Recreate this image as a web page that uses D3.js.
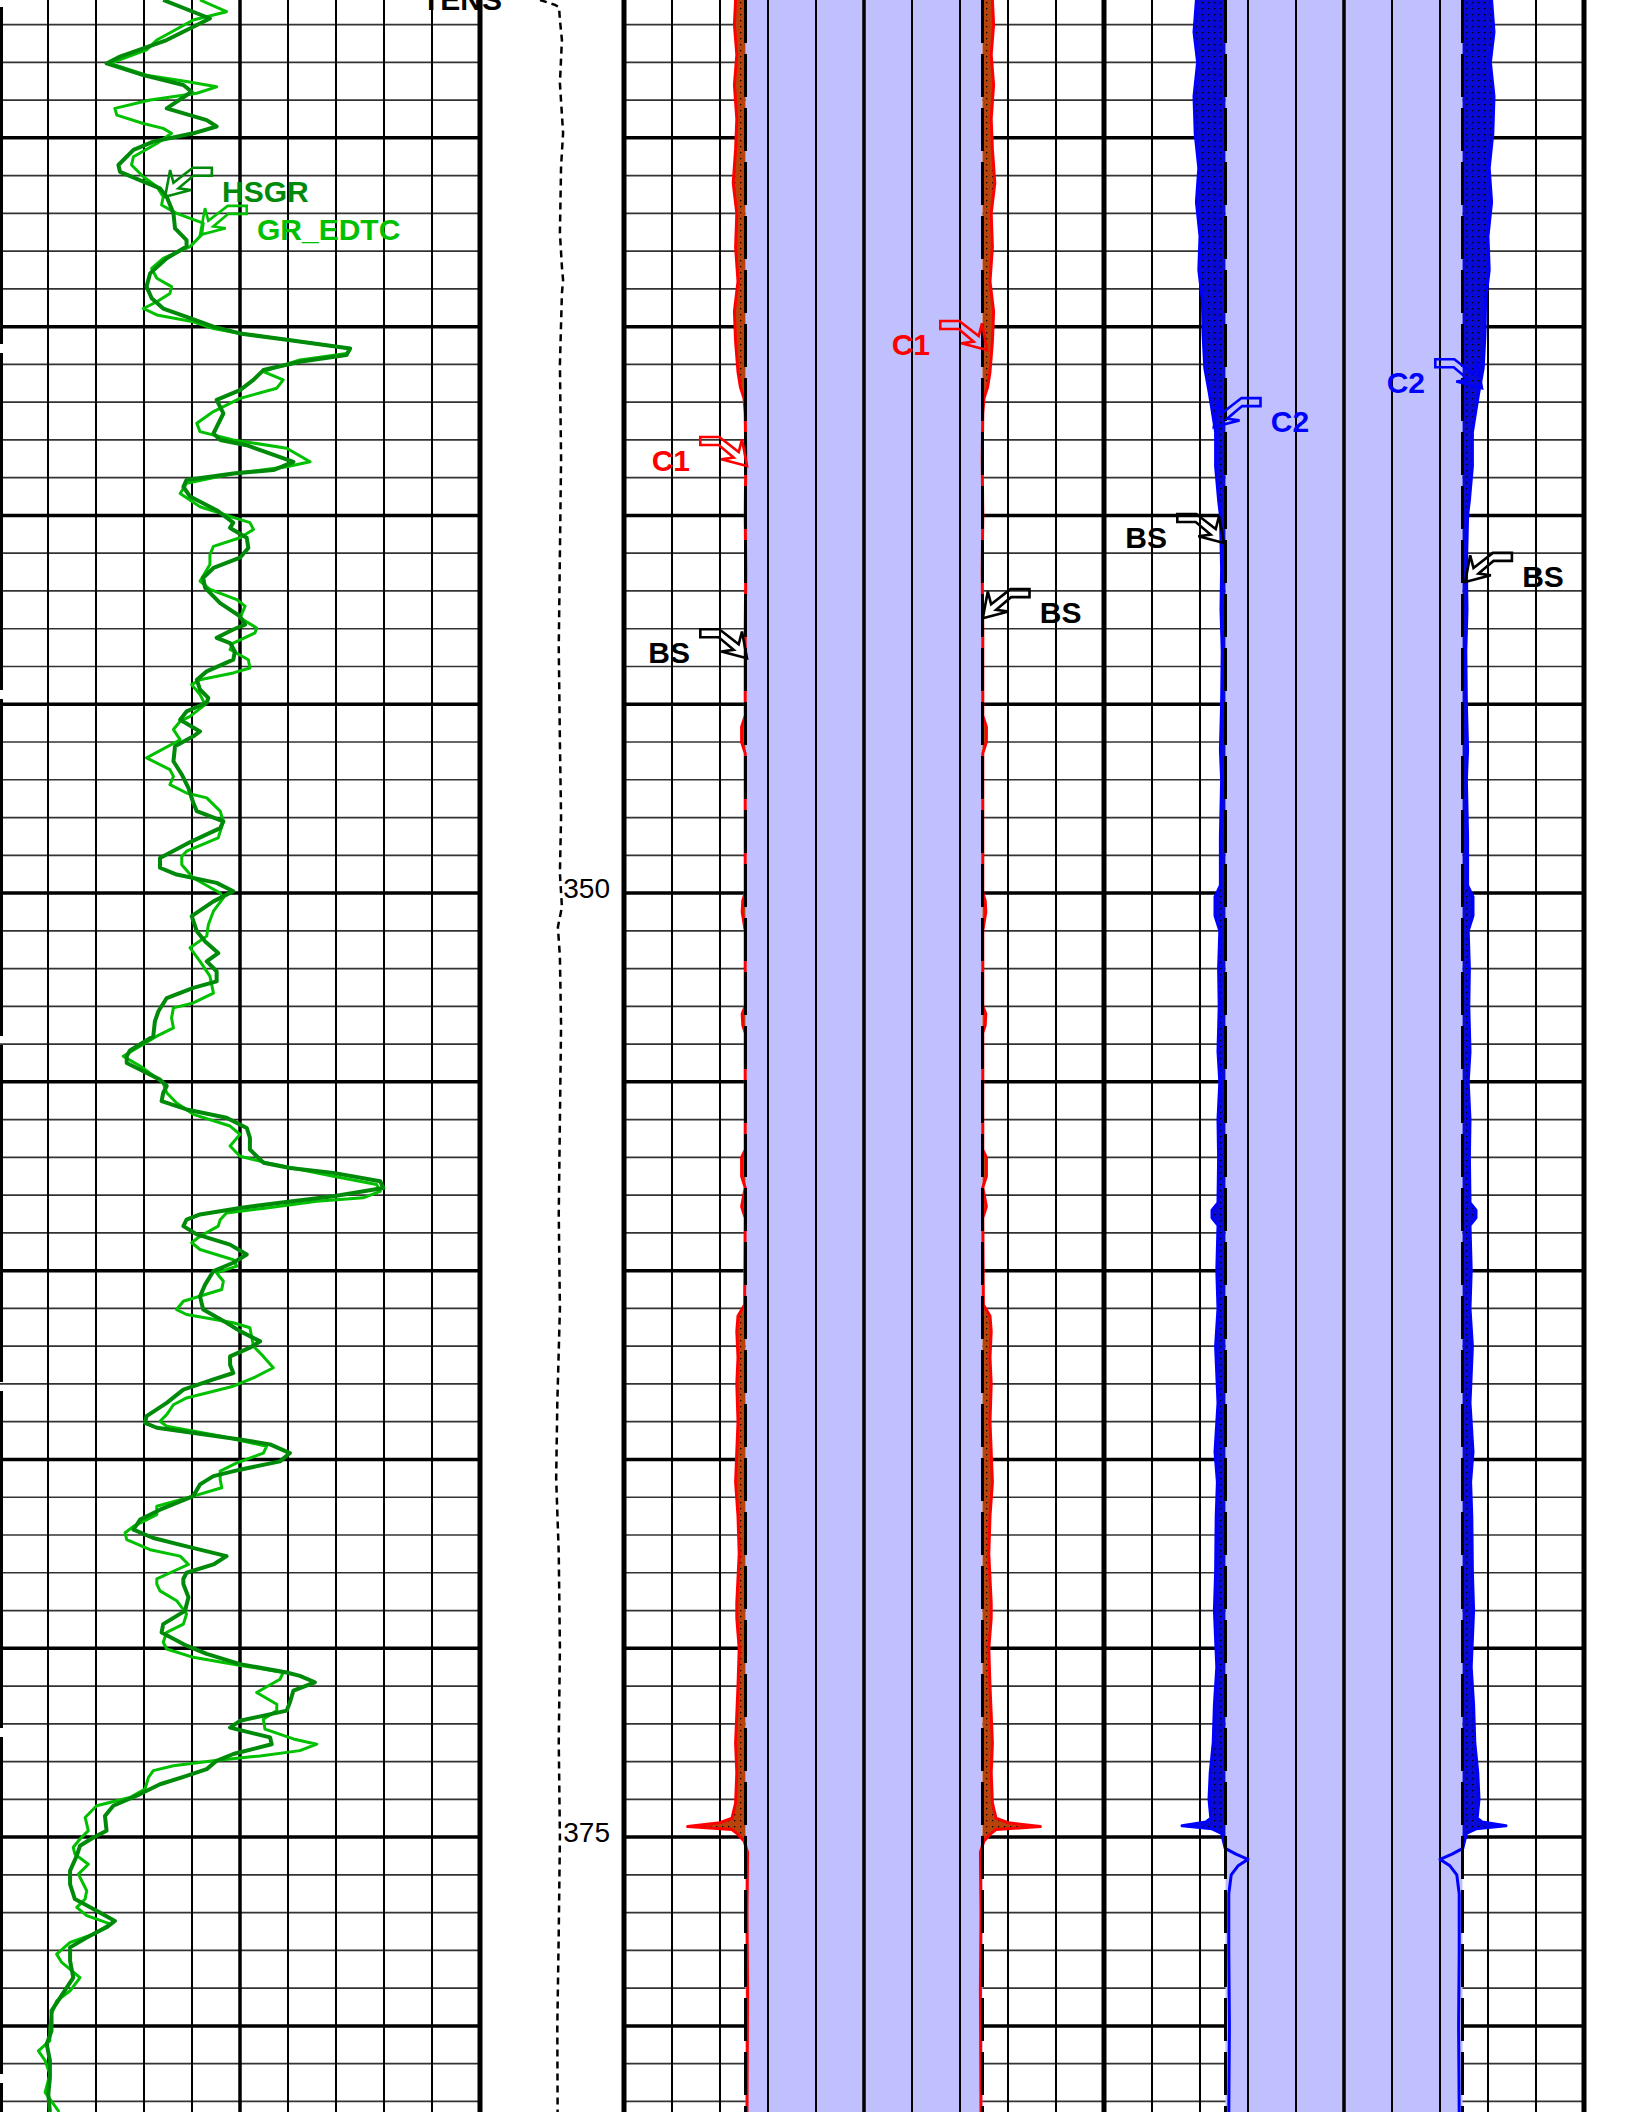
<!DOCTYPE html>
<html>
<head>
<meta charset="utf-8">
<script src="https://cdn.jsdelivr.net/npm/d3@7"></script>
<style>
  body { margin: 0; background: #fff; }
  svg { display: block; }
</style>
</head>
<body>
<svg id="log" width="1632" height="2112"></svg>
<script>
// depth window shown on the sheet (m)
const depthRange = [326.35, 382.28];
const depthLabels = [350, 375];

// gamma ray, [depth, gAPI]
const hsgr = [
  [326.35, 51.0], [326.84, 65.6], [327.41, 52.1], [327.85, 37.5], [328.03, 33.3], [328.34, 44.8],
  [328.60, 57.3], [328.78, 59.9], [329.22, 52.1], [329.53, 64.6], [329.70, 67.7], [329.88, 60.4],
  [330.10, 47.9], [330.32, 41.7], [330.72, 37.0], [330.90, 37.5], [331.16, 44.8], [331.34, 50.0],
  [331.56, 52.1], [332.00, 54.2], [332.40, 54.7], [332.71, 58.3], [332.88, 58.3], [333.19, 52.1],
  [333.59, 46.9], [333.94, 45.8], [334.25, 47.4], [334.52, 51.0], [334.74, 58.3], [335.00, 66.7],
  [335.18, 75.0], [335.35, 89.6], [335.58, 109.4], [335.75, 108.3], [335.93, 93.7], [336.15, 82.3],
  [336.41, 79.2], [336.68, 75.0], [336.94, 67.7], [337.30, 69.8], [337.83, 66.7], [338.00, 68.8],
  [338.14, 77.1], [338.58, 91.7], [338.80, 85.4], [338.89, 72.9], [339.06, 58.3], [339.24, 57.3],
  [339.50, 59.4], [339.86, 67.7], [340.19, 72.9], [340.33, 71.9], [340.59, 77.1], [340.86, 77.6],
  [341.12, 75.0], [341.39, 66.7], [341.65, 63.5], [341.92, 64.1], [342.32, 68.8], [342.67, 75.0],
  [342.89, 76.6], [343.02, 72.9], [343.24, 67.7], [343.38, 71.9], [343.60, 73.4], [343.82, 72.9],
  [344.13, 64.6], [344.35, 61.5], [344.61, 62.5], [344.83, 65.1], [344.96, 64.6], [345.19, 58.3],
  [345.41, 56.3], [345.72, 62.5], [345.85, 60.4], [346.11, 54.7], [346.51, 54.2], [346.86, 56.8],
  [347.22, 58.9], [347.61, 60.4], [347.83, 61.5], [348.10, 69.8], [348.28, 68.8], [348.63, 59.9],
  [349.07, 50.0], [349.33, 50.0], [349.51, 55.2], [349.73, 67.7], [349.95, 72.9], [350.22, 66.7],
  [350.61, 59.9], [351.01, 61.5], [351.28, 64.1], [351.59, 68.2], [351.81, 64.6], [352.07, 67.7],
  [352.34, 67.7], [352.51, 60.4], [352.78, 52.1], [353.13, 49.5], [353.40, 48.4], [353.79, 47.9],
  [354.17, 40.6], [354.32, 39.6], [354.50, 39.6], [354.72, 44.8], [354.94, 50.0], [355.11, 52.1],
  [355.29, 51.0], [355.51, 50.5], [355.73, 58.3], [355.95, 70.8], [356.22, 77.1], [356.48, 78.1],
  [356.79, 78.1], [357.14, 82.3], [357.28, 90.6], [357.41, 104.2], [357.63, 118.8], [357.81, 119.8],
  [358.03, 104.2], [358.20, 87.5], [358.34, 75.0], [358.51, 62.5], [358.65, 58.3], [358.82, 57.3],
  [359.04, 61.5], [359.31, 71.9], [359.57, 77.1], [359.79, 72.9], [360.01, 66.7], [360.37, 64.1],
  [360.68, 62.5], [361.03, 63.5], [361.38, 70.8], [361.60, 75.0], [361.87, 81.3], [362.04, 78.1],
  [362.27, 71.9], [362.49, 71.9], [362.71, 72.9], [362.88, 66.7], [363.15, 57.3], [363.50, 52.1],
  [363.85, 45.8], [364.03, 45.3], [364.16, 49.0], [364.47, 75.0], [364.60, 84.4], [364.83, 90.6],
  [365.05, 87.5], [365.27, 75.0], [365.44, 66.7], [365.66, 62.5], [365.97, 60.4], [366.33, 50.0],
  [366.59, 43.8], [366.86, 41.7], [367.08, 47.9], [367.30, 58.3], [367.56, 70.8], [367.78, 66.7],
  [368.00, 58.3], [368.16, 57.3], [368.30, 57.3], [368.65, 58.9], [369.01, 57.8], [369.36, 51.0],
  [369.58, 50.5], [369.93, 58.3], [370.15, 64.6], [370.42, 75.0], [370.64, 89.6], [370.73, 93.7],
  [370.90, 98.4], [371.12, 91.7], [371.43, 90.6], [371.65, 89.6], [371.92, 75.0], [372.10, 71.9],
  [372.36, 84.4], [372.54, 84.9], [372.80, 72.9], [372.98, 67.7], [373.20, 64.6], [373.38, 58.3],
  [373.60, 50.0], [373.86, 43.8], [374.17, 35.4], [374.44, 32.8], [374.83, 33.3], [375.01, 29.2],
  [375.23, 25.0], [375.49, 24.0], [375.89, 21.9], [376.25, 21.9], [376.64, 23.4], [376.95, 30.2],
  [377.22, 35.9], [377.39, 33.3], [377.66, 27.1], [377.92, 21.9], [378.28, 21.9], [378.72, 22.9],
  [379.25, 18.8], [379.60, 16.1], [380.13, 16.1], [380.48, 14.6], [380.92, 15.6], [381.37, 15.6],
  [381.81, 15.1], [382.28, 15.6]
];

const grEdtc = [
  [326.35, 62.5], [326.66, 70.8], [326.88, 60.4], [327.41, 49.0], [327.67, 45.8], [328.03, 34.4],
  [328.34, 45.8], [328.51, 58.3], [328.65, 67.7], [328.82, 61.5], [329.00, 46.9], [329.22, 35.9],
  [329.40, 36.5], [329.62, 44.8], [329.75, 51.0], [329.88, 53.6], [330.15, 49.0], [330.50, 41.7],
  [330.72, 41.1], [331.03, 44.8], [331.29, 49.0], [331.56, 51.0], [331.78, 50.5], [332.00, 55.2],
  [332.26, 63.5], [332.57, 63.0], [332.88, 59.4], [333.19, 51.0], [333.46, 47.4], [333.72, 49.0],
  [333.94, 53.6], [334.12, 53.1], [334.34, 49.0], [334.52, 44.8], [334.69, 49.0], [334.87, 60.4],
  [335.05, 66.7], [335.18, 75.0], [335.35, 89.6], [335.58, 109.4], [335.71, 108.3], [335.88, 93.7],
  [336.19, 82.3], [336.41, 88.5], [336.63, 86.5], [336.90, 75.0], [337.25, 66.7], [337.56, 61.5],
  [337.78, 62.5], [338.00, 72.9], [338.22, 89.6], [338.58, 96.9], [338.71, 89.6], [338.89, 72.9],
  [339.15, 58.3], [339.42, 56.3], [339.77, 62.5], [340.19, 78.1], [340.37, 79.2], [340.59, 75.0],
  [340.82, 66.7], [341.04, 65.6], [341.30, 65.6], [341.74, 62.5], [341.96, 65.6], [342.23, 74.0],
  [342.40, 76.6], [342.71, 75.0], [342.98, 80.2], [343.11, 79.7], [343.38, 72.9], [343.55, 71.9],
  [343.82, 77.6], [344.04, 78.1], [344.17, 72.9], [344.35, 62.5], [344.48, 59.9], [344.74, 62.5],
  [345.01, 64.1], [345.32, 59.4], [345.45, 56.3], [345.67, 54.2], [345.94, 56.3], [346.42, 45.8],
  [346.73, 53.1], [346.91, 54.2], [347.13, 53.1], [347.35, 58.3], [347.48, 64.6], [347.83, 68.8],
  [348.10, 69.8], [348.54, 68.2], [348.89, 58.3], [349.03, 56.8], [349.25, 56.8], [349.60, 60.4],
  [350.00, 68.8], [350.13, 69.8], [350.48, 66.7], [350.84, 65.1], [351.14, 64.6], [351.45, 59.4],
  [351.81, 62.5], [352.20, 65.6], [352.65, 66.7], [352.91, 60.4], [353.04, 54.2], [353.31, 53.6],
  [353.57, 54.2], [353.79, 49.0], [354.32, 38.5], [354.58, 43.8], [355.03, 51.0], [355.29, 52.1],
  [355.56, 55.2], [355.86, 60.4], [356.17, 71.9], [356.39, 75.0], [356.70, 71.9], [356.97, 75.0],
  [357.14, 83.3], [357.32, 93.7], [357.50, 104.2], [357.72, 117.7], [357.90, 118.8], [358.07, 113.5],
  [358.16, 99.0], [358.34, 83.3], [358.47, 70.8], [358.65, 68.8], [358.82, 68.2], [359.09, 62.5],
  [359.26, 59.9], [359.44, 62.5], [359.71, 72.9], [359.88, 74.0], [360.06, 67.7], [360.28, 69.8],
  [360.50, 69.3], [360.81, 57.3], [361.03, 55.2], [361.16, 58.3], [361.38, 72.9], [361.51, 78.1],
  [362.00, 79.2], [362.27, 82.3], [362.57, 85.4], [362.84, 79.2], [363.06, 72.9], [363.37, 58.3],
  [363.55, 54.2], [363.81, 52.1], [363.99, 50.0], [364.12, 52.1], [364.38, 68.8], [364.65, 83.3],
  [364.83, 82.3], [365.09, 74.0], [365.31, 68.8], [365.53, 68.8], [365.75, 69.3], [365.97, 60.4],
  [366.24, 49.0], [366.46, 49.0], [366.77, 41.7], [366.94, 39.1], [367.12, 39.6], [367.39, 46.9],
  [367.56, 56.3], [367.78, 58.9], [367.96, 54.2], [368.16, 49.0], [368.30, 49.0], [368.48, 50.0],
  [368.74, 55.2], [369.09, 58.3], [369.36, 57.3], [369.58, 52.1], [369.84, 51.0], [370.02, 52.1],
  [370.24, 60.4], [370.42, 72.9], [370.64, 88.5], [370.82, 87.5], [371.17, 80.2], [371.48, 86.5],
  [371.65, 86.5], [371.88, 82.3], [372.14, 82.8], [372.40, 91.7], [372.54, 99.0], [372.71, 93.7],
  [372.85, 81.3], [372.98, 66.7], [373.11, 54.2], [373.24, 47.9], [373.42, 46.4], [373.73, 45.3],
  [373.95, 40.6], [374.17, 30.2], [374.48, 26.6], [374.83, 27.6], [375.05, 25.0], [375.27, 22.9],
  [375.45, 23.4], [375.72, 27.6], [375.98, 24.5], [376.42, 27.1], [376.64, 26.6], [376.86, 24.0],
  [377.08, 27.1], [377.30, 34.4], [377.57, 29.2], [377.79, 21.9], [378.10, 17.7], [378.32, 19.3],
  [378.72, 25.0], [379.07, 21.9], [379.34, 17.7], [379.69, 16.1], [380.04, 15.6], [380.39, 15.6],
  [380.66, 12.0], [380.92, 14.1], [381.28, 15.6], [381.76, 14.1], [382.28, 18.5]
];

// cable tension, [depth, lbf]
const tens = [
  [326.35, 2050], [326.48, 2570], [326.54, 2710], [326.88, 2740], [327.41, 2810], [328.55, 2740],
  [329.87, 2850], [330.77, 2780], [332.52, 2740], [333.42, 2810], [333.77, 2850], [334.11, 2810],
  [336.0, 2740], [338.5, 2780], [341.0, 2740], [343.5, 2700], [346.0, 2740], [348.0, 2780],
  [349.47, 2740], [350.37, 2810], [350.90, 2670], [351.69, 2740], [353.5, 2780], [356.0, 2740],
  [358.5, 2700], [361.0, 2740], [363.5, 2650], [365.5, 2610], [367.5, 2700], [370.0, 2740],
  [372.5, 2700], [375.0, 2740], [377.5, 2700], [380.0, 2650], [382.28, 2660]
];

// bit size and calipers, [depth, inch]
const bitSize = [[326.35, 9.875], [382.28, 9.875]];

const cal1 = [
  [326.35, 10.7], [327.0, 10.8], [327.8, 10.6], [328.6, 10.8], [329.5, 10.6], [330.3, 10.7],
  [331.2, 10.9], [332.0, 10.6], [332.9, 10.7], [333.8, 10.5], [334.6, 10.8], [335.4, 10.7],
  [336.2, 10.5], [336.6, 10.3], [336.9, 10.0], [337.3, 9.9], [338.5, 9.85], [340.0, 9.9],
  [341.5, 9.85], [343.0, 9.9], [345.3, 9.9], [345.6, 10.2], [346.0, 10.2], [346.3, 9.9],
  [348.0, 9.9], [350.0, 9.9], [350.2, 10.1], [350.5, 10.15], [351.0, 9.9], [353.0, 9.9],
  [353.2, 10.15], [353.5, 10.1], [353.7, 9.9], [356.8, 9.9], [357.0, 10.2], [357.5, 10.2],
  [357.8, 9.9], [358.3, 10.2], [358.6, 9.9], [360.9, 9.95], [361.2, 10.5], [361.6, 10.6],
  [362.3, 10.5], [363.0, 10.6], [364.0, 10.5], [365.6, 10.7], [366.5, 10.5], [367.5, 10.4],
  [368.8, 10.6], [369.2, 10.6], [370.0, 10.4], [371.0, 10.5], [372.5, 10.7], [373.3, 10.6],
  [374.1, 10.7], [374.5, 11.0], [374.62, 12.0], [374.72, 14.7], [374.8, 11.0], [374.9, 10.6],
  [375.1, 10.0], [375.4, 9.7], [377.0, 9.75], [379.0, 9.7], [382.28, 9.75]
];

const cal2 = [
  [326.35, 12.3], [327.2, 12.5], [328.0, 12.2], [328.9, 12.5], [329.9, 12.4], [330.8, 12.1],
  [331.7, 12.3], [332.6, 12.0], [333.5, 12.1], [334.3, 11.8], [335.2, 11.75], [336.1, 11.6],
  [336.8, 11.2], [337.4, 10.9], [337.8, 10.7], [338.7, 10.7], [339.6, 10.45], [340.0, 10.3],
  [341.4, 10.2], [342.5, 10.25], [343.6, 10.15], [345.0, 10.2], [346.2, 10.3], [347.0, 10.2],
  [348.5, 10.3], [349.8, 10.3], [350.1, 10.75], [350.6, 10.75], [351.0, 10.35], [352.0, 10.45],
  [353.0, 10.4], [354.2, 10.5], [355.0, 10.35], [356.0, 10.5], [357.0, 10.45], [358.2, 10.5],
  [358.4, 11.0], [358.6, 11.0], [358.8, 10.5], [360.0, 10.6], [361.0, 10.5], [362.0, 10.7],
  [363.5, 10.5], [364.8, 10.75], [365.6, 10.55], [366.5, 10.65], [368.0, 10.7], [369.0, 10.8],
  [370.5, 10.6], [371.5, 10.8], [372.5, 10.9], [373.3, 11.15], [374.0, 11.25], [374.5, 11.1],
  [374.6, 11.5], [374.7, 13.5], [374.78, 11.0], [374.9, 10.2], [375.3, 9.9], [375.45, 9.0],
  [375.59, 8.0], [375.75, 8.8], [376.0, 9.4], [376.5, 9.6], [378.0, 9.6], [380.0, 9.55],
  [382.28, 9.6]
];

// curve name flags: where the arrow touches the curve
const flags = [
  { label: 'HSGR',    track: 0, depth: 331.56, value: 51.6,  edge: 0,  dir: 1,  color: '#008a0a' },
  { label: 'GR_EDTC', track: 0, depth: 332.57, value: 62.5,  edge: 0,  dir: 1,  color: '#00c000' },
  { label: 'C1',      track: 2, depth: 338.69, value: 9.75,  edge: -1, dir: -1, color: '#ff0000' },
  { label: 'C1',      track: 2, depth: 335.62, value: 10.25, edge: 1,  dir: -1, color: '#ff0000' },
  { label: 'BS',      track: 2, depth: 343.78, value: 9.75,  edge: -1, dir: -1, color: '#000000' },
  { label: 'BS',      track: 2, depth: 342.72, value: 9.9,   edge: 1,  dir: 1,  color: '#000000' },
  { label: 'C2',      track: 3, depth: 337.66, value: 10.85, edge: -1, dir: 1,  color: '#0000ff' },
  { label: 'C2',      track: 3, depth: 336.63, value: 11.5,  edge: 1,  dir: -1, color: '#0000ff' },
  { label: 'BS',      track: 3, depth: 340.73, value: 10.0,  edge: -1, dir: -1, color: '#000000' },
  { label: 'BS',      track: 3, depth: 341.76, value: 10.1,  edge: 1,  dir: 1,  color: '#000000' }
];

const W = 1632, H = 2112;
const tracks = [
  { x0: 0, x1: 480 },      // gamma ray
  { x0: 480, x1: 624 },    // depth
  { x0: 624, x1: 1104 },   // caliper 1
  { x0: 1104, x1: 1584 }   // caliper 2
];

const svg = d3.select('#log');
const font = "'Liberation Sans', Arial, sans-serif";

const y = d3.scaleLinear().domain(depthRange).range([0, H]);
const grX = d3.scaleLinear().domain([0, 150]).range([tracks[0].x0, tracks[0].x1]);
const tensX = d3.scaleLinear().domain([0, 5000]).range([481, 625]);
const halfW = d3.scaleLinear().domain([0, 20]).range([0, 240]);

// dotted fill textures
const defs = svg.append('defs');
function dotPattern(id, color) {
  const p = defs.append('pattern').attr('id', id)
    .attr('width', 6).attr('height', 6).attr('patternUnits', 'userSpaceOnUse');
  p.append('rect').attr('width', 6).attr('height', 6).attr('fill', color);
  p.append('rect').attr('x', 2).attr('y', 2).attr('width', 1.3).attr('height', 1.3).attr('fill', '#000');
}
dotPattern('brownDots', '#b8440c');
dotPattern('blueDots', '#0a0ad6');

const gridTracks = [0, 2, 3];
const depthLines = d3.range(Math.ceil(depthRange[0]), Math.floor(depthRange[1]) + 1);

// horizontal grid
const hGrid = svg.append('g');
gridTracks.forEach(ti => {
  const t = tracks[ti];
  hGrid.selectAll(null).data(depthLines).join('line')
    .attr('x1', t.x0).attr('x2', t.x1)
    .attr('y1', d => y(d)).attr('y2', d => y(d))
    .attr('stroke', d => d % 5 === 0 ? '#000' : '#333')
    .attr('stroke-width', d => d % 5 === 0 ? 3.5 : 1.7);
});

// hole fill between bit size edges
[2, 3].forEach(ti => {
  const c = (tracks[ti].x0 + tracks[ti].x1) / 2;
  svg.append('path').datum(bitSize)
    .attr('fill', '#c0c0ff')
    .attr('d', d3.area().y(d => y(d[0]))
      .x0(d => c - halfW(d[1])).x1(d => c + halfW(d[1])));
});

// vertical grid
const vGrid = svg.append('g');
gridTracks.forEach(ti => {
  const t = tracks[ti];
  const xs = d3.range(1, 10).map(i => t.x0 + i * (t.x1 - t.x0) / 10);
  vGrid.selectAll(null).data(xs).join('line')
    .attr('x1', d => d).attr('x2', d => d).attr('y1', 0).attr('y2', H)
    .attr('stroke', '#000')
    .attr('stroke-width', (d, i) => i === 4 ? 3.5 : 2);
});

// washout fill where the caliper reads above bit size
function bsAt(depth) {
  return bitSize[0][1];
}
function washout(ti, cal, fill) {
  const c = (tracks[ti].x0 + tracks[ti].x1) / 2;
  [-1, 1].forEach(side => {
    svg.append('path').datum(cal)
      .attr('fill', fill)
      .attr('d', d3.area().y(d => y(d[0]))
        .x0(d => c + side * halfW(bsAt(d[0])))
        .x1(d => c + side * halfW(Math.max(d[1], bsAt(d[0])))));
  });
}
washout(2, cal1, 'url(#brownDots)');
washout(3, cal2, 'url(#blueDots)');

// caliper curves and bit size
function mirrored(ti, data, color, width, dash) {
  const c = (tracks[ti].x0 + tracks[ti].x1) / 2;
  [-1, 1].forEach(side => {
    svg.append('path').datum(data)
      .attr('fill', 'none').attr('stroke', color).attr('stroke-width', width)
      .attr('stroke-dasharray', dash)
      .attr('stroke-linejoin', 'round')
      .attr('d', d3.line().y(d => y(d[0])).x(d => c + side * halfW(d[1])));
  });
}
mirrored(2, cal1, '#ff0000', 3, null);
mirrored(3, cal2, '#0000ff', 3, null);
mirrored(2, bitSize, '#000', 3, '43,11');
mirrored(3, bitSize, '#000', 3, '43,11');

// track borders
const borders = svg.append('g');
borders.append('line').attr('x1', 0).attr('x2', 0).attr('y1', 7).attr('y2', H)
  .attr('stroke', '#000').attr('stroke-width', 6).attr('stroke-dasharray', '337,9');
[480, 624, 1104, 1584].forEach(x => {
  borders.append('line').attr('x1', x).attr('x2', x).attr('y1', 0).attr('y2', H)
    .attr('stroke', '#000').attr('stroke-width', 5);
});

// gamma ray curves
const grLine = d3.line().x(d => grX(d[1])).y(d => y(d[0]));
svg.append('path').datum(grEdtc)
  .attr('fill', 'none').attr('stroke', '#00c000').attr('stroke-width', 3)
  .attr('stroke-linejoin', 'round').attr('d', grLine);
svg.append('path').datum(hsgr)
  .attr('fill', 'none').attr('stroke', '#008a0a').attr('stroke-width', 4)
  .attr('stroke-linejoin', 'round').attr('d', grLine);

// tension in the depth track
svg.append('path').datum(tens)
  .attr('fill', 'none').attr('stroke', '#000').attr('stroke-width', 2.5)
  .attr('stroke-dasharray', '7,5')
  .attr('d', d3.line().x(d => tensX(d[1])).y(d => y(d[0])));
svg.append('text').attr('x', 422).attr('y', 10)
  .attr('font-family', font).attr('font-weight', 'bold').attr('font-size', 30)
  .text('TENS');

// depth numbers
svg.append('g').selectAll('text').data(depthLabels).join('text')
  .attr('x', 610).attr('y', d => y(d) + 5)
  .attr('text-anchor', 'end')
  .attr('font-family', font).attr('font-size', 28)
  .text(d => d);

// curve flags
const flagShape = [[0, 0], [5, -26.7], [8.3, -14], [27.7, -29], [46.7, -29], [46.7, -21],
  [28.3, -21], [13.3, -8.4], [25.7, -6.7]];
const fg = svg.append('g');
flags.forEach(f => {
  let tx;
  if (f.track === 0) tx = grX(f.value);
  else {
    const c = (tracks[f.track].x0 + tracks[f.track].x1) / 2;
    tx = c + f.edge * halfW(f.value);
  }
  const ty = y(f.depth);
  fg.append('path')
    .attr('d', d3.line()(flagShape.map(p => [tx + f.dir * p[0], ty + p[1]])) + 'Z')
    .attr('fill', 'none').attr('stroke', f.color).attr('stroke-width', 2.6)
    .attr('stroke-linejoin', 'miter');
  fg.append('text')
    .attr('x', tx + f.dir * 57).attr('y', ty + 5)
    .attr('text-anchor', f.dir > 0 ? 'start' : 'end')
    .attr('font-family', font).attr('font-weight', 'bold').attr('font-size', 30)
    .attr('fill', f.color)
    .text(f.label);
});
</script>
</body>
</html>
